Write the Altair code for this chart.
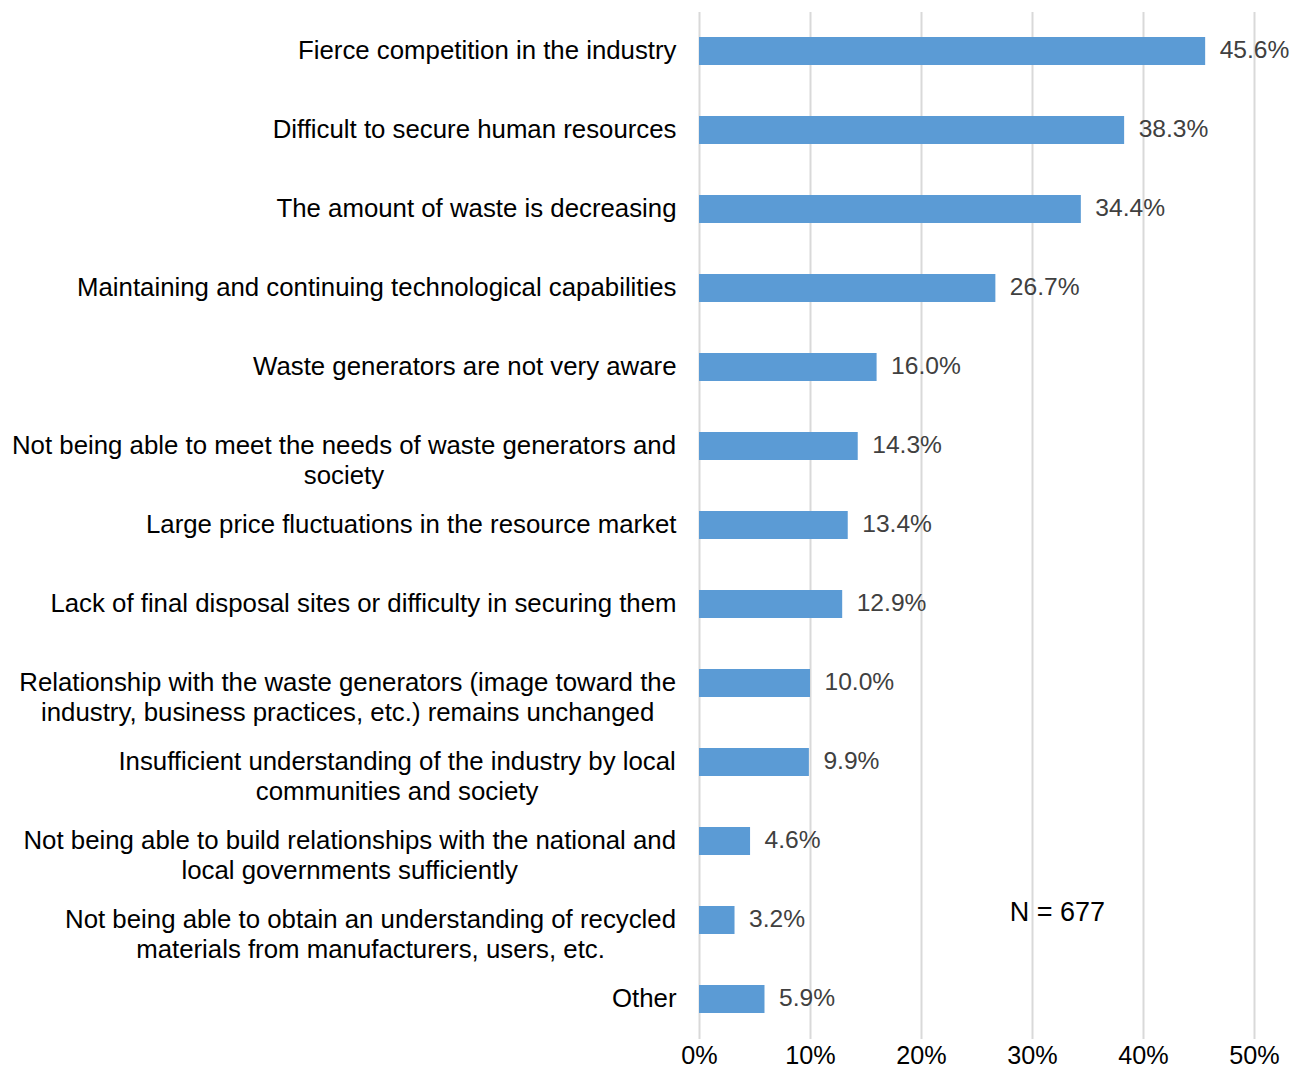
import altair as alt
import pandas as pd

line1 = [
    "Fierce competition in the industry",
    "Difficult to secure human resources",
    "The amount of waste is decreasing",
    "Maintaining and continuing technological capabilities",
    "Waste generators are not very aware",
    "Not being able to meet the needs of waste generators and",
    "Large price fluctuations in the resource market",
    "Lack of final disposal sites or difficulty in securing them",
    "Relationship with the waste generators (image toward the",
    "Insufficient understanding of the industry by local",
    "Not being able to build relationships with the national and",
    "Not being able to obtain an understanding of recycled",
    "Other",
]
line2 = [
    "", "", "", "", "",
    "society",
    "", "",
    "industry, business practices, etc.) remains unchanged",
    "communities and society",
    "local governments sufficiently",
    "materials from manufacturers, users, etc.",
    "",
]
values = [45.6, 38.3, 34.4, 26.7, 16.0, 14.3, 13.4, 12.9, 10.0, 9.9, 4.6, 3.2, 5.9]
ticks = [0, 10, 20, 30, 40, 50]
note = "N = 677"

# Arial / Liberation Sans advance widths (1/1000 em), used to centre the two lines
W = {" ": 278, "(": 333, ")": 333, ",": 278, ".": 278, "-": 333,
     "A": 667, "B": 667, "C": 722, "D": 722, "E": 667, "F": 611, "G": 778, "H": 722,
     "I": 278, "J": 500, "K": 667, "L": 556, "M": 833, "N": 722, "O": 778, "P": 667,
     "Q": 778, "R": 722, "S": 667, "T": 611, "U": 722, "V": 667, "W": 944, "X": 667,
     "Y": 667, "Z": 611,
     "a": 556, "b": 556, "c": 500, "d": 556, "e": 556, "f": 278, "g": 556, "h": 556,
     "i": 222, "j": 222, "k": 500, "l": 222, "m": 833, "n": 556, "o": 556, "p": 556,
     "q": 556, "r": 333, "s": 500, "t": 278, "u": 556, "v": 500, "w": 722, "x": 500,
     "y": 500, "z": 500}


def tw(s, fs):
    return sum(W.get(c, 556) for c in s) / 1000.0 * fs


FONT = "Liberation Sans"
FS_CAT = 25.8
FS_TICK = 25.2
FS_VAL = 24.6
FS_NOTE = 27
LABEL_PAD = 23

cats = [a + ("|" + b if b else "") for a, b in zip(line1, line2)]
df = pd.DataFrame({"cat": cats, "v": values})
note_df = pd.DataFrame({"cat": [cats[11]], "v": [28.0], "t": [note]})

yscale = alt.Scale(domain=cats, paddingInner=0.646, paddingOuter=0.323)
y = alt.Y(
    "cat:N",
    sort=cats,
    scale=yscale,
    axis=alt.Axis(
        title=None, ticks=False, domain=False, grid=False,
        labelExpr="indexof(datum.label, '|') >= 0 ? '' : datum.label",
        labelPadding=LABEL_PAD, labelLimit=1000,
        labelFont=FONT, labelFontSize=FS_CAT, labelColor="#000000",
        labelAlign="right", labelBaseline="middle",
    ),
)
x = alt.X(
    "v:Q",
    scale=alt.Scale(domain=[0, 50], nice=False),
    axis=alt.Axis(
        title=None, values=ticks, ticks=False, domain=False,
        grid=True, gridColor="#d9d9d9", gridWidth=2,
        labelExpr="datum.value + '%'", labelFlush=False,
        labelFont=FONT, labelFontSize=FS_TICK, labelColor="#000000",
        labelPadding=4.5,
    ),
)

bars = alt.Chart(df).mark_bar(color="#5b9bd5").encode(x=x, y=y)
vals = alt.Chart(df).transform_calculate(
    lab="format(datum.v, '.1f') + '%'"
).mark_text(
    align="left", baseline="middle", dx=14.5, font=FONT, fontSize=FS_VAL, color="#404040"
).encode(x=alt.X("v:Q"), y=alt.Y("cat:N", sort=cats), text="lab:N")
nt = alt.Chart(note_df).mark_text(
    align="left", baseline="middle", dy=-7, font=FONT, fontSize=FS_NOTE, color="#000000"
).encode(x=alt.X("v:Q"), y=alt.Y("cat:N", sort=cats), text="t:N")

layers = [bars, vals, nt]
for a, b, c in zip(line1, line2, cats):
    if not b:
        continue
    cx = -(LABEL_PAD + tw(a, FS_CAT) / 2.0)
    d = pd.DataFrame({"cat": [c], "l1": [a], "l2": [b]})
    layers.append(
        alt.Chart(d).transform_calculate(lines="[datum.l1, datum.l2]")
        .mark_text(align="center", baseline="middle", lineHeight=30,
                   font=FONT, fontSize=FS_CAT, color="#000000")
        .encode(x=alt.value(cx), y=alt.Y("cat:N", sort=cats), text="lines:N")
    )

chart = alt.layer(*layers).properties(
    width=555, height=1027,
    autosize=alt.AutoSizeParams(type="none"),
    padding={"left": 691, "top": 3.5, "right": 36, "bottom": 30},
).configure_view(stroke=None)

chart.save("out.html", embed_options={"renderer": "svg", "actions": False})
